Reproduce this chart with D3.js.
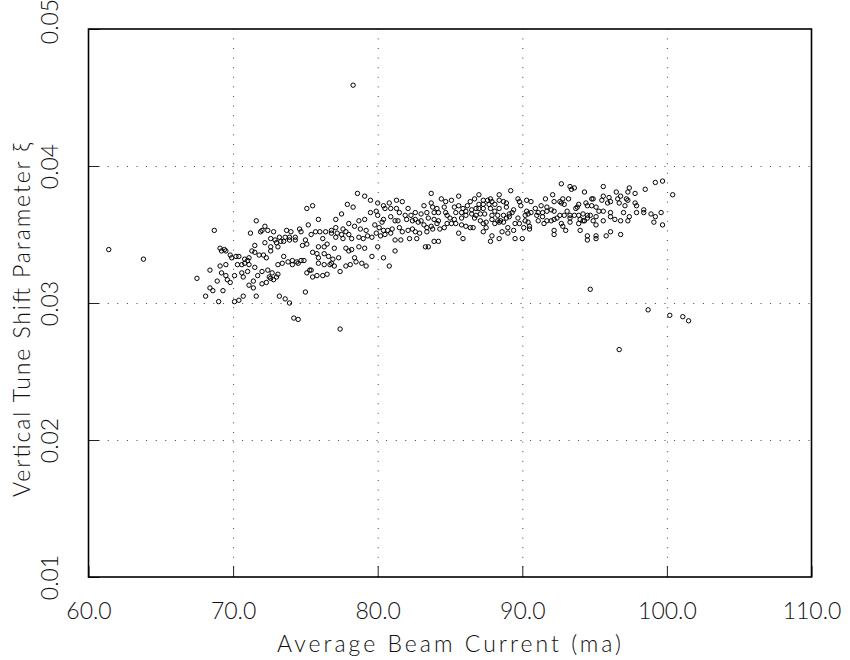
<!DOCTYPE html>
<html>
<head>
<meta charset="utf-8">
<script src="https://cdn.jsdelivr.net/npm/d3@7"></script>
<style>
  body { margin: 0; background: #fff; }
  text { font-family: Lato, "Liberation Sans", "DejaVu Sans", sans-serif; font-weight: 300; fill: #111; }
</style>
</head>
<body>
<svg id="chart" width="850" height="660"></svg>
<script>
// axis ranges and tick labels
const xDomain = [60, 110];
const yDomain = [0.01, 0.05];
const xTicks = [60, 70, 80, 90, 100, 110];
const yTicks = [0.01, 0.02, 0.03, 0.04, 0.05];
const xGrid = [70, 80, 90, 100];
const yGrid = [0.02, 0.03, 0.04];
const xTitle = "Average Beam Current (ma)";
const yTitle = "Vertical Tune Shift Parameter \u03BE";

// average beam current (ma) of each measurement
const current = [
  61.4, 63.8, 78.3,
  75.1, 71.6, 68.7, 75.2, 72.2, 71.2, 71.9, 72.0, 72.4, 72.8, 73.7, 74.0, 74.6, 74.7,
  72.6, 72.9, 73.2, 73.6, 73.9, 74.3, 72.2, 73.0, 73.3, 73.5, 73.9, 74.3, 75.0,
  71.5, 72.6, 73.1, 74.8, 75.1, 69.1, 69.4,
  67.5, 68.4, 69.1, 69.5, 69.2, 69.5, 69.6, 69.8, 70.1, 68.9, 68.4, 68.6, 68.1, 69.3, 69.0,
  69.8, 69.9, 70.2, 70.4, 70.8, 71.0, 71.1, 70.8, 70.6, 70.3, 71.1, 71.5, 70.6, 70.7, 71.0,
  71.4, 71.1, 71.4, 71.7, 72.0, 72.4, 72.0, 72.3, 72.7, 72.5, 72.6, 73.0, 73.1, 72.8,
  73.1, 73.4, 73.5, 73.8, 74.1, 74.1, 74.4, 74.5, 74.7, 74.9, 75.1, 75.3, 75.0,
  73.2, 73.6, 73.9, 71.6, 70.7, 70.4, 70.1, 74.2, 74.5,
  69.2, 69.5, 71.3, 71.5, 71.8, 72.1, 72.3, 72.6,
  78.6, 79.1, 79.5, 80.0, 80.4, 80.8, 81.3, 81.7, 77.9, 78.3, 75.5, 77.5, 79.5, 79.9, 80.0,
  80.5, 80.9, 81.3, 81.5, 82.1, 82.6, 83.0, 83.4, 83.2, 75.9, 77.1, 78.7, 79.1, 79.8, 80.4,
  80.3, 80.9, 81.2, 81.4, 81.9, 82.0, 82.3, 82.4, 82.6, 82.8, 83.0, 83.2, 83.4, 78.0, 77.6,
  76.8, 76.4, 75.7, 76.0, 77.1, 78.4, 78.8, 79.2, 80.1, 80.4, 80.7, 81.0, 81.5, 81.7, 82.1,
  82.4, 82.6, 75.4, 76.2, 76.8, 77.2, 77.5, 77.8, 78.0, 77.1, 77.6, 78.2, 78.7, 79.0, 79.3,
  79.6, 79.9, 80.2, 80.5, 80.9, 81.2, 81.6, 82.2, 82.7, 82.9, 83.4, 83.3, 83.5, 77.8, 78.2,
  78.7, 79.1, 80.0, 76.5, 76.3, 75.9, 77.0,
  75.5, 75.8, 75.9, 76.3, 76.6, 76.9, 77.3, 76.8, 77.0, 76.7, 76.3, 75.9, 75.4, 75.5, 75.8,
  76.2, 76.5, 77.4, 77.8, 78.1, 78.4, 78.5, 78.9, 79.2, 79.6, 80.4, 80.8, 81.2, 78.0, 77.4,
  89.2, 87.0, 88.4, 85.6, 83.7, 84.4, 84.7, 85.1, 83.7, 86.7, 87.3, 87.6, 87.8, 87.9, 88.4,
  88.7, 88.9, 89.7, 89.8, 90.3, 90.6, 91.3, 91.6, 91.7, 89.9, 88.1, 87.7, 87.3, 87.0, 86.4,
  86.2, 85.6, 85.3, 84.6, 84.1, 83.8, 85.9, 86.1, 86.5, 86.8, 87.0, 87.3, 87.8, 88.1, 88.4,
  88.9, 89.4, 90.3, 90.6, 90.9, 91.1, 91.4, 91.7, 83.9, 84.2, 84.7, 84.8, 85.4, 85.8, 86.1,
  86.5, 86.8, 87.1, 87.4, 87.9, 88.3, 88.7, 89.1, 89.3, 90.2, 90.4, 91.0, 91.4, 83.5, 83.9,
  84.2, 85.0, 85.3, 85.8, 86.7, 87.1, 87.9, 88.3, 88.5, 88.9, 89.1, 89.7, 90.2, 90.4, 91.1,
  91.7, 84.1, 84.8, 85.1, 85.4, 85.8, 87.3, 87.5, 88.1, 88.4, 88.7, 89.5, 89.8, 90.5, 91.5,
  83.7, 84.6, 86.1, 86.4, 86.6, 87.5, 89.0, 90.1, 90.5, 83.8, 84.3, 85.6, 85.9, 87.3, 87.9,
  87.8, 88.6, 89.0, 88.4, 89.4, 89.5, 90.0, 83.9, 84.2,
  92.7, 93.3, 93.4, 93.6, 95.6, 94.3, 97.4, 97.3, 97.8, 98.5, 99.2, 99.7, 100.4, 92.1, 92.8,
  93.2, 92.2, 92.6, 92.7, 92.9, 94.8, 94.9, 95.6, 95.5, 96.0, 96.1, 95.9, 96.5, 96.8, 96.6,
  96.7, 97.2, 97.3, 97.1, 97.8, 97.9, 93.9, 93.8, 93.7, 94.4, 94.5, 94.8, 95.1, 92.0, 92.2,
  93.1, 95.3, 95.6, 96.1, 97.0, 97.9, 98.4, 98.4, 98.9, 99.6, 92.6, 92.9, 93.3, 93.6, 93.9,
  94.2, 94.5, 94.7, 95.1, 96.1, 97.4, 99.2, 92.2, 92.4, 93.3, 94.0, 94.3, 94.5, 94.9, 95.6,
  96.4, 96.8, 97.3, 99.1, 92.0, 92.7, 93.3, 93.9, 94.2, 92.8, 93.0, 92.2, 92.2, 94.0, 95.1,
  96.1, 96.8, 95.8, 95.1, 94.5, 94.5, 95.1, 99.7,
  94.7, 98.7, 100.2, 101.1, 101.5, 96.7
];

// vertical tune shift parameter xi of each measurement
const xi = [
  0.0339, 0.0332, 0.0459,
  0.0369, 0.0360, 0.0353, 0.0357, 0.0356, 0.0351, 0.0352, 0.0353, 0.0353, 0.0352, 0.0353, 0.0352, 0.0354, 0.0352,
  0.0347, 0.0346, 0.0348, 0.0348, 0.0348, 0.0348, 0.0344, 0.0344, 0.0345, 0.0345, 0.0346, 0.0346, 0.0346,
  0.0342, 0.0341, 0.0341, 0.0342, 0.0343, 0.0340, 0.0339,
  0.0318, 0.0324, 0.0327, 0.0328, 0.0322, 0.0320, 0.0317, 0.0315, 0.0320, 0.0316, 0.0311, 0.0309, 0.0305, 0.0309, 0.0301,
  0.0335, 0.0333, 0.0334, 0.0334, 0.0332, 0.0331, 0.0333, 0.0329, 0.0328, 0.0328, 0.0328, 0.0326, 0.0322, 0.0319, 0.0323,
  0.0316, 0.0313, 0.0311, 0.0320, 0.0323, 0.0324, 0.0314, 0.0315, 0.0322, 0.0319, 0.0318, 0.0319, 0.0321, 0.0317,
  0.0328, 0.0329, 0.0334, 0.0330, 0.0328, 0.0331, 0.0330, 0.0329, 0.0331, 0.0331, 0.0322, 0.0324, 0.0308,
  0.0305, 0.0303, 0.0300, 0.0305, 0.0305, 0.0302, 0.0301, 0.0289, 0.0288,
  0.0338, 0.0338, 0.0338, 0.0337, 0.0335, 0.0335, 0.0333, 0.0338,
  0.0380, 0.0378, 0.0375, 0.0373, 0.0371, 0.0373, 0.0375, 0.0374, 0.0372, 0.0370, 0.0371, 0.0365, 0.0366, 0.0367, 0.0364,
  0.0369, 0.0369, 0.0369, 0.0366, 0.0369, 0.0366, 0.0365, 0.0366, 0.0371, 0.0361, 0.0361, 0.0360, 0.0361, 0.0357, 0.0361,
  0.0359, 0.0363, 0.0360, 0.0360, 0.0364, 0.0361, 0.0364, 0.0360, 0.0361, 0.0359, 0.0360, 0.0357, 0.0355, 0.0358, 0.0354,
  0.0353, 0.0352, 0.0352, 0.0352, 0.0355, 0.0356, 0.0354, 0.0353, 0.0355, 0.0353, 0.0353, 0.0354, 0.0355, 0.0352, 0.0353,
  0.0354, 0.0352, 0.0350, 0.0347, 0.0351, 0.0351, 0.0350, 0.0352, 0.0350, 0.0348, 0.0347, 0.0347, 0.0348, 0.0347, 0.0349,
  0.0348, 0.0351, 0.0349, 0.0350, 0.0351, 0.0346, 0.0346, 0.0347, 0.0347, 0.0351, 0.0352, 0.0341, 0.0341, 0.0340, 0.0339,
  0.0341, 0.0340, 0.0341, 0.0343, 0.0341, 0.0341, 0.0340,
  0.0337, 0.0336, 0.0333, 0.0336, 0.0334, 0.0332, 0.0333, 0.0329, 0.0327, 0.0328, 0.0328, 0.0329, 0.0324, 0.0319, 0.0320,
  0.0320, 0.0321, 0.0323, 0.0327, 0.0328, 0.0333, 0.0330, 0.0329, 0.0327, 0.0334, 0.0333, 0.0327, 0.0338, 0.0338, 0.0281,
  0.0382, 0.0379, 0.0379, 0.0378, 0.0380, 0.0376, 0.0374, 0.0375, 0.0373, 0.0376, 0.0375, 0.0375, 0.0376, 0.0374, 0.0375,
  0.0374, 0.0373, 0.0376, 0.0374, 0.0375, 0.0374, 0.0371, 0.0376, 0.0370, 0.0371, 0.0372, 0.0372, 0.0372, 0.0372, 0.0374,
  0.0371, 0.0371, 0.0370, 0.0370, 0.0369, 0.0370, 0.0369, 0.0367, 0.0368, 0.0369, 0.0369, 0.0369, 0.0369, 0.0367, 0.0369,
  0.0370, 0.0368, 0.0367, 0.0366, 0.0369, 0.0366, 0.0366, 0.0367, 0.0366, 0.0366, 0.0366, 0.0364, 0.0366, 0.0366, 0.0364,
  0.0365, 0.0364, 0.0365, 0.0365, 0.0364, 0.0364, 0.0364, 0.0365, 0.0366, 0.0364, 0.0365, 0.0364, 0.0363, 0.0362, 0.0361,
  0.0360, 0.0362, 0.0361, 0.0362, 0.0362, 0.0360, 0.0361, 0.0360, 0.0360, 0.0362, 0.0363, 0.0362, 0.0360, 0.0359, 0.0360,
  0.0360, 0.0358, 0.0358, 0.0358, 0.0358, 0.0357, 0.0358, 0.0359, 0.0358, 0.0359, 0.0359, 0.0358, 0.0358, 0.0356, 0.0358,
  0.0356, 0.0355, 0.0356, 0.0355, 0.0355, 0.0355, 0.0355, 0.0355, 0.0354, 0.0354, 0.0354, 0.0351, 0.0347, 0.0352, 0.0349,
  0.0345, 0.0352, 0.0351, 0.0347, 0.0353, 0.0347, 0.0347, 0.0345, 0.0345,
  0.0387, 0.0385, 0.0383, 0.0384, 0.0385, 0.0381, 0.0384, 0.0381, 0.0380, 0.0383, 0.0388, 0.0389, 0.0379, 0.0379, 0.0376,
  0.0376, 0.0374, 0.0374, 0.0373, 0.0372, 0.0376, 0.0376, 0.0378, 0.0375, 0.0377, 0.0374, 0.0373, 0.0381, 0.0378, 0.0376,
  0.0373, 0.0376, 0.0375, 0.0371, 0.0373, 0.0371, 0.0372, 0.0370, 0.0369, 0.0373, 0.0371, 0.0371, 0.0370, 0.0368, 0.0367,
  0.0367, 0.0367, 0.0367, 0.0366, 0.0366, 0.0366, 0.0368, 0.0366, 0.0365, 0.0366, 0.0364, 0.0364, 0.0364, 0.0364, 0.0364,
  0.0365, 0.0364, 0.0364, 0.0363, 0.0363, 0.0363, 0.0363, 0.0361, 0.0362, 0.0362, 0.0361, 0.0360, 0.0362, 0.0360, 0.0360,
  0.0361, 0.0360, 0.0360, 0.0359, 0.0360, 0.0358, 0.0359, 0.0358, 0.0360, 0.0356, 0.0353, 0.0353, 0.0350, 0.0353, 0.0357,
  0.0352, 0.0350, 0.0349, 0.0349, 0.0349, 0.0346, 0.0347, 0.0357,
  0.0310, 0.0295, 0.0291, 0.0290, 0.0287, 0.0266
];

const points = current.map((c, i) => ({ current: c, xi: xi[i] }));

const svg = d3.select("#chart");
const margin = { top: 29, right: 38.5, bottom: 83, left: 88.5 };
const width = 850 - margin.left - margin.right;
const height = 660 - margin.top - margin.bottom;

const x = d3.scaleLinear().domain(xDomain).range([0, width]);
const y = d3.scaleLinear().domain(yDomain).range([height, 0]);

const g = svg.append("g").attr("transform", `translate(${margin.left},${margin.top})`);

// dotted grid
g.append("g")
  .attr("class", "grid")
  .attr("transform", `translate(0,${height})`)
  .call(d3.axisBottom(x).tickValues(xGrid).tickSize(-height).tickFormat(""))
  .call(s => s.select(".domain").remove());
g.append("g")
  .attr("class", "grid")
  .call(d3.axisLeft(y).tickValues(yGrid).tickSize(-width).tickFormat(""))
  .call(s => s.select(".domain").remove());
g.selectAll(".grid line")
  .attr("stroke", "#444")
  .attr("stroke-width", 1)
  .attr("stroke-dasharray", "1,8.6");

// x axis: inward ticks, labels below
const xAxis = g.append("g")
  .attr("transform", `translate(0,${height})`)
  .call(d3.axisBottom(x).tickValues(xTicks).tickSize(-11).tickPadding(0).tickFormat(d3.format(".1f")));
xAxis.select(".domain").remove();
xAxis.selectAll("line").attr("stroke", "#222").attr("stroke-width", 1);
xAxis.selectAll("text")
  .attr("y", 42)
  .attr("dy", null)
  .attr("font-size", 23)
  .attr("fill", "#111");

// y axis: inward ticks, rotated labels
const yAxis = g.append("g")
  .call(d3.axisLeft(y).tickValues(yTicks).tickSize(-11).tickFormat(d3.format(".2f")));
yAxis.select(".domain").remove();
yAxis.selectAll("line").attr("stroke", "#222").attr("stroke-width", 1);
yAxis.selectAll("text")
  .attr("x", 0)
  .attr("dy", null)
  .attr("text-anchor", "middle")
  .attr("font-size", 23)
  .attr("fill", "#111")
  .attr("transform", d => `translate(-31,${d === 0.05 ? -8 : 0}) rotate(-90)`);

// frame
g.append("rect")
  .attr("width", width)
  .attr("height", height)
  .attr("fill", "none")
  .attr("stroke", "#000")
  .attr("stroke-width", 1.6);

// points
g.append("g")
  .selectAll("circle")
  .data(points)
  .join("circle")
  .attr("cx", d => x(d.current))
  .attr("cy", d => y(d.xi))
  .attr("r", 2.2)
  .attr("fill", "none")
  .attr("stroke", "#000")
  .attr("stroke-width", 1);

// titles
svg.append("text")
  .attr("x", margin.left + width / 2 - 1)
  .attr("y", 652)
  .attr("text-anchor", "middle")
  .attr("font-size", 23)
  .attr("textLength", 344)
  .attr("lengthAdjust", "spacing")
  .text(xTitle);

svg.append("text")
  .attr("transform", "translate(30,320) rotate(-90)")
  .attr("text-anchor", "middle")
  .attr("font-size", 23)
  .attr("textLength", 354)
  .attr("lengthAdjust", "spacing")
  .text(yTitle);
</script>
</body>
</html>
